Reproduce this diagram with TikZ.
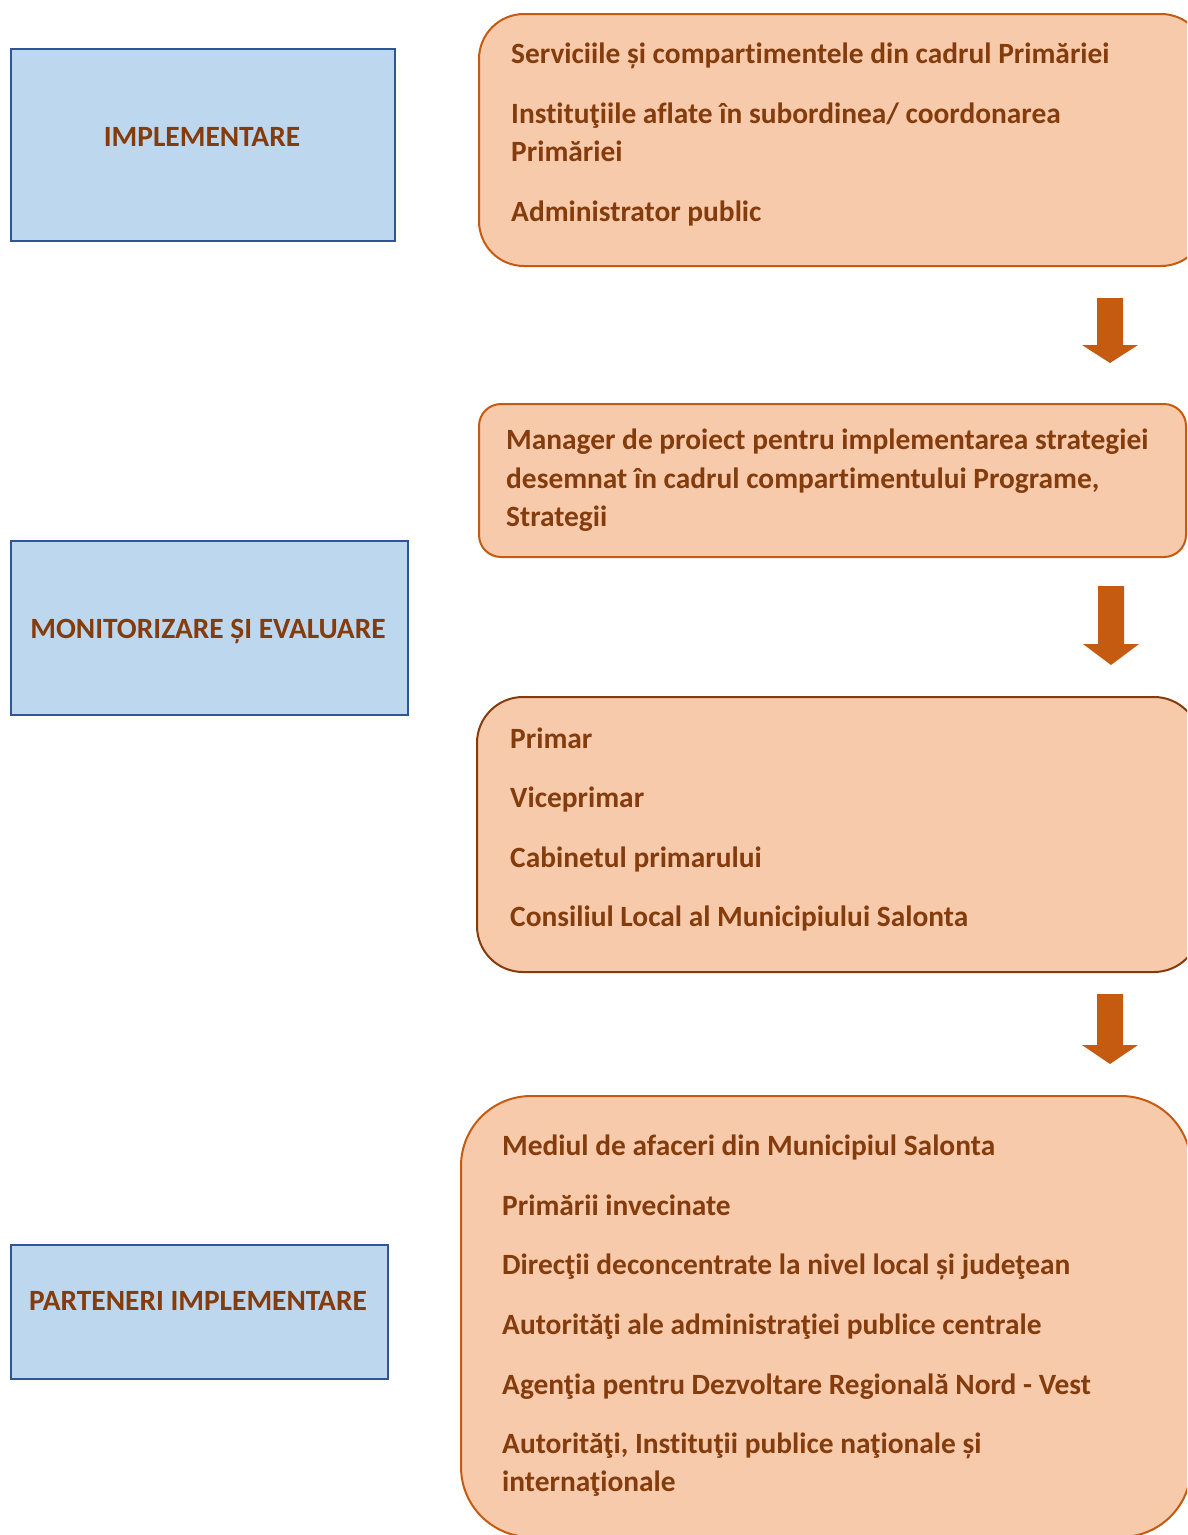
\documentclass[tikz,border=0pt]{standalone}
\usepackage{fontspec}
\setmainfont{Carlito}[Ligatures={NoCommon,NoContextual}]
\definecolor{phasefill}{HTML}{BDD7EE}
\definecolor{phaseline}{HTML}{2F5597}
\definecolor{actorfill}{HTML}{F7CAAC}
\definecolor{actorline}{HTML}{C55A11}
\definecolor{textbrown}{HTML}{843C0C}
\newcommand{\flowarrow}[4]{%
  \fill[actorline] (#1-13,#2) -- (#1+13,#2) -- (#1+13,#3) -- (#1+28,#3) -- (#1,#4) -- (#1-28,#3) -- (#1-13,#3) -- cycle;}
\begin{document}
\begin{tikzpicture}[
        x=1pt, y=-1pt,
        font=\fontsize{29.4}{38}\selectfont\bfseries
    ]
    \tikzset{
        phasebox/.style = {rectangle, draw=phaseline, fill=phasefill, line width=2pt, anchor=north west, inner sep=0},
        actorbox/.style = {rectangle, rounded corners=#1, draw=actorline, fill=actorfill, line width=2pt, anchor=north west, inner sep=0},
        phasetext/.style = {anchor=base, text=textbrown, inner sep=0},
        itemtext/.style = {anchor=base west, text=textbrown, inner sep=0},
    }
    \useasboundingbox (0,0) rectangle (1187,1535);
    \clip (0,0) rectangle (1187,1535);
    % left column
    \node[phasebox, minimum width=384, minimum height=192] (impl) at (10,48) {};
    \node[phasebox, minimum width=397, minimum height=174] (monit) at (10,540) {};
    \node[phasebox, minimum width=377, minimum height=134] (part) at (10,1244) {};
    \node[phasetext] (impltext) at (202,146) {IMPLEMENTARE};
    \node[phasetext] (monittext) at (208,638) {MONITORIZARE ȘI EVALUARE};
    \node[phasetext] (parttext) at (198,1310) {PARTENERI IMPLEMENTARE};
    % right column
    \node[actorbox=45, minimum width=727, minimum height=252] (serv) at (478,13) {};
    \node[actorbox=22, minimum width=707, minimum height=153] (manager) at (478,403) {};
    \node[actorbox=46, draw=textbrown, minimum width=723, minimum height=275] (primar) at (476,696) {};
    \node[actorbox=70, minimum width=730, minimum height=441] (partners) at (460,1095) {};
    \foreach \yy/\txt in {63/{Serviciile și compartimentele din cadrul Primăriei},
                          123/{Instituţiile aflate în subordinea/ coordonarea},
                          161/{Primăriei},
                          221/{Administrator public}}
        \node[itemtext] (s\yy) at (511,\yy) {\txt};
    \foreach \yy/\txt in {449/{Manager de proiect pentru implementarea strategiei},
                          488/{desemnat în cadrul compartimentului Programe,},
                          526/{Strategii}}
        \node[itemtext] (m\yy) at (506,\yy) {\txt};
    \foreach \yy/\txt in {748/{Primar},
                          807/{Viceprimar},
                          867/{Cabinetul primarului},
                          926/{Consiliul Local al Municipiului Salonta}}
        \node[itemtext] (p\yy) at (510,\yy) {\txt};
    \foreach \yy/\txt in {1155/{Mediul de afaceri din Municipiul Salonta},
                          1215/{Primării invecinate},
                          1274/{Direcţii deconcentrate la nivel local și judeţean},
                          1334/{Autorităţi ale administraţiei publice centrale},
                          1394/{Agenţia pentru Dezvoltare Regională Nord - Vest},
                          1453/{Autorităţi, Instituţii publice naţionale și},
                          1491/{internaţionale}}
        \node[itemtext] (a\yy) at (502,\yy) {\txt};
    % arrows
    \flowarrow{1110}{298}{345}{363}
    \flowarrow{1111}{586}{644}{665}
    \flowarrow{1110}{994}{1045}{1064}
\end{tikzpicture}
\end{document}
